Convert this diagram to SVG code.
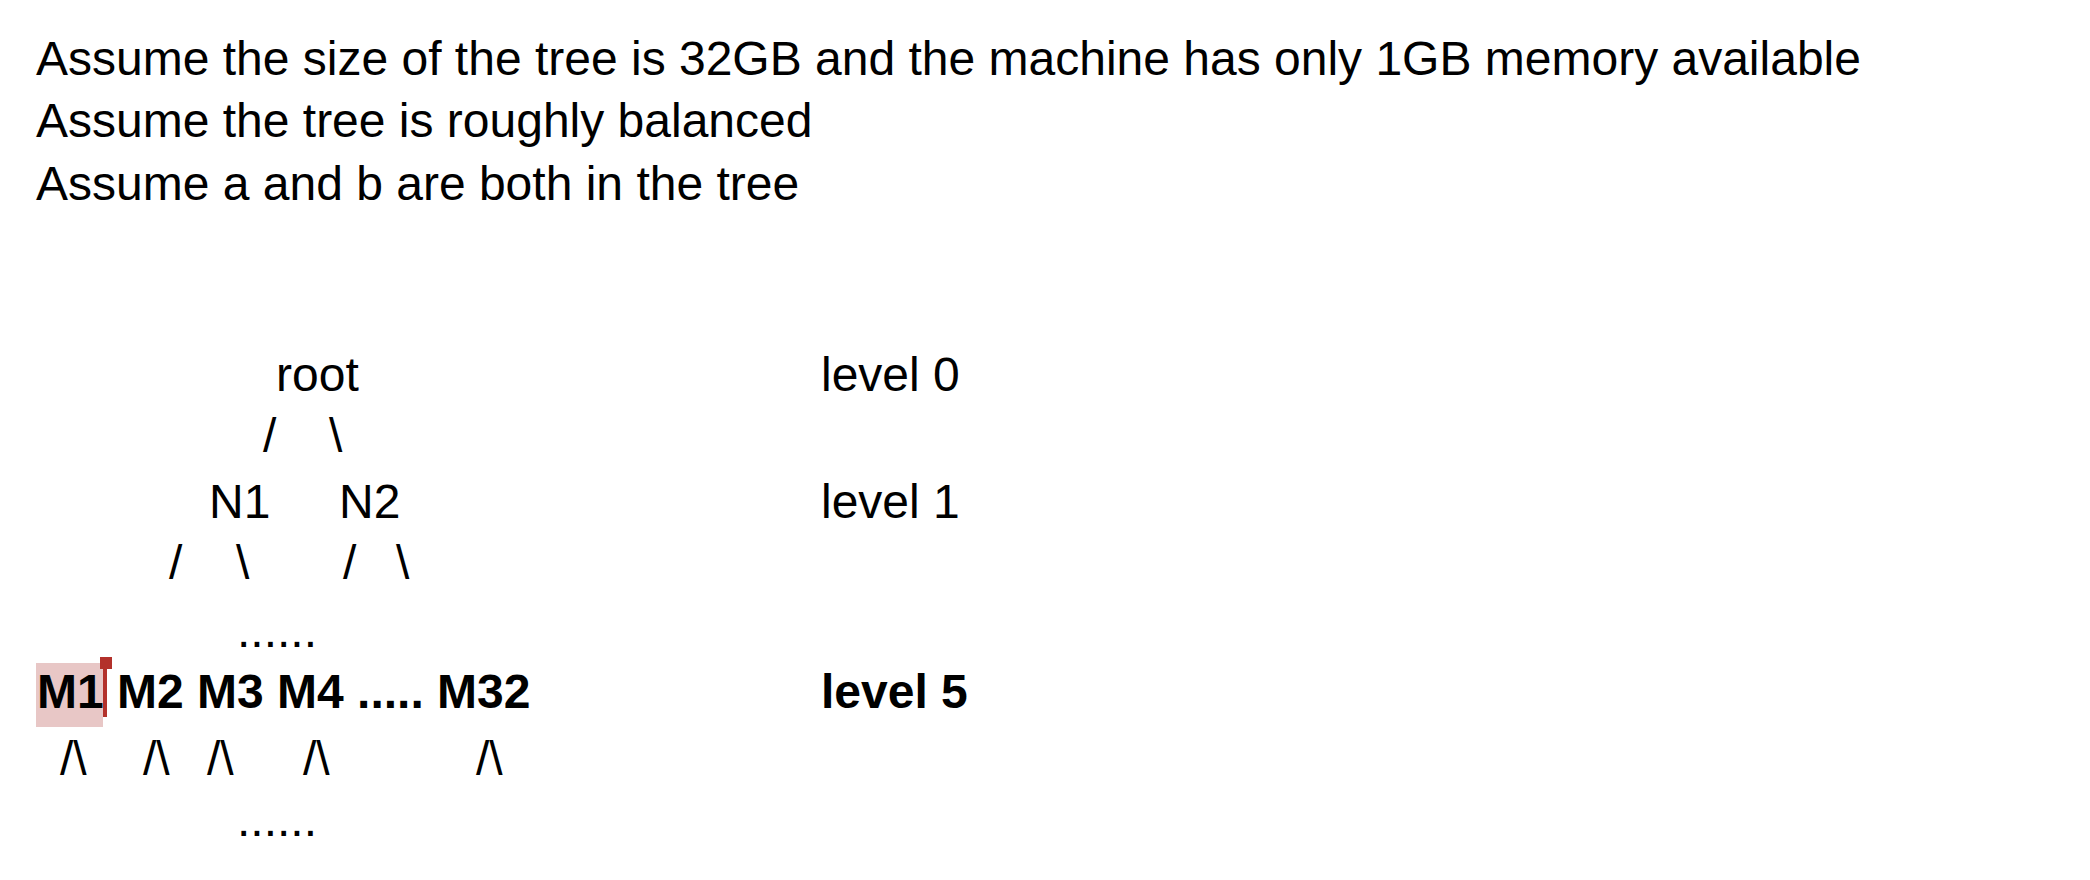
<svg xmlns="http://www.w3.org/2000/svg" width="2090" height="880" viewBox="0 0 2090 880">
<style>
text{font-family:"Liberation Sans",Arial,sans-serif;font-size:48px;fill:#000}
.b{font-weight:bold}
</style>
<rect width="2090" height="880" fill="#fff"/>
<g id="notes">
<text x="36" y="75">Assume the size of the tree is 32GB and the machine has only 1GB memory available</text>
<text x="36" y="137">Assume the tree is roughly balanced</text>
<text x="36" y="200">Assume a and b are both in the tree</text>
</g>
<g id="highlight">
<rect x="36" y="663" width="67" height="64" fill="#e8c7c6"/>
</g>
<g id="root"><text x="276" y="391">root</text></g>
<g id="level0"><text x="821" y="391">level 0</text></g>
<g id="N1"><text x="209" y="518">N1</text></g>
<g id="N2"><text x="339" y="518">N2</text></g>
<g id="level1"><text x="821" y="518">level 1</text></g>
<g id="connectors">
<text x="263" y="452">/</text>
<text x="329" y="452">\</text>
<text x="169" y="579">/</text>
<text x="236" y="579">\</text>
<text x="343" y="579">/</text>
<text x="396" y="579">\</text>
<text x="60" y="775">/\</text>
<text x="143" y="775">/\</text>
<text x="207" y="775">/\</text>
<text x="303" y="775">/\</text>
<text x="476" y="775">/\</text>
</g>
<g id="dots1"><text x="237" y="647">......</text></g>
<g id="leaves"><text class="b" x="37" y="708">M1 M2 M3 M4 ..... M32</text></g>
<g id="level5"><text class="b" x="821" y="708">level 5</text></g>
<g id="dots2"><text x="237" y="836">......</text></g>
<g id="cursor">
<rect x="103" y="661" width="4" height="56" fill="#b3312b"/>
<rect x="100" y="657" width="12" height="12" fill="#b3312b"/>
</g>
</svg>
